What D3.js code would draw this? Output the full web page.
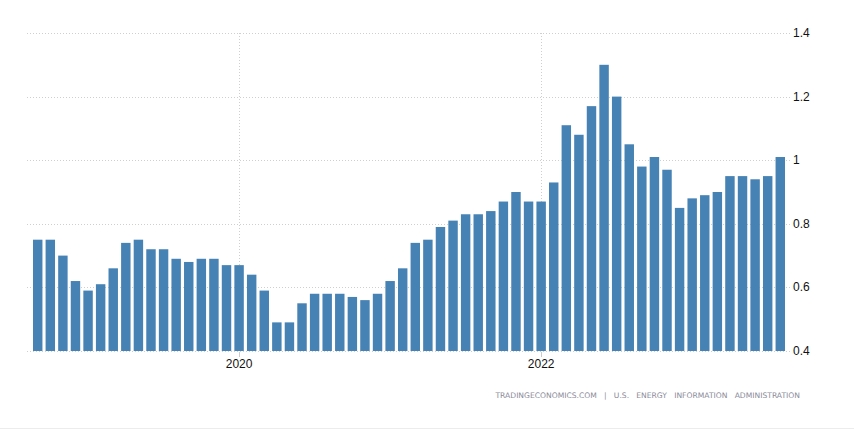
<!DOCTYPE html>
<html>
<head>
<meta charset="utf-8">
<script src="https://cdn.jsdelivr.net/npm/d3@7"></script>
<style>
  html, body { margin: 0; padding: 0; background: #fff; }
  svg { display: block; }
</style>
</head>
<body>
<svg id="chart" width="854" height="431"></svg>
<script>
// Monthly values, Sep 2018 – Aug 2023
const months = [
  "2018-09","2018-10","2018-11","2018-12",
  "2019-01","2019-02","2019-03","2019-04","2019-05","2019-06","2019-07","2019-08","2019-09","2019-10","2019-11","2019-12",
  "2020-01","2020-02","2020-03","2020-04","2020-05","2020-06","2020-07","2020-08","2020-09","2020-10","2020-11","2020-12",
  "2021-01","2021-02","2021-03","2021-04","2021-05","2021-06","2021-07","2021-08","2021-09","2021-10","2021-11","2021-12",
  "2022-01","2022-02","2022-03","2022-04","2022-05","2022-06","2022-07","2022-08","2022-09","2022-10","2022-11","2022-12",
  "2023-01","2023-02","2023-03","2023-04","2023-05","2023-06","2023-07","2023-08"
];
const values = [
  0.75,0.75,0.70,0.62,
  0.59,0.61,0.66,0.74,0.75,0.72,0.72,0.69,0.68,0.69,0.69,0.67,
  0.67,0.64,0.59,0.49,0.49,0.55,0.58,0.58,0.58,0.57,0.56,0.58,
  0.62,0.66,0.74,0.75,0.79,0.81,0.83,0.83,0.84,0.87,0.90,0.87,
  0.87,0.93,1.11,1.08,1.17,1.30,1.20,1.05,0.98,1.01,0.97,0.85,
  0.88,0.89,0.90,0.95,0.95,0.94,0.95,1.01
];
const yTicks = [0.4, 0.6, 0.8, 1.0, 1.2, 1.4];
const yTickLabels = ["0.4", "0.6", "0.8", "1", "1.2", "1.4"];
const xTickMonths = ["2020-01", "2022-01"];
const xTickLabels = ["2020", "2022"];
const sourceText = "TRADINGECONOMICS.COM  |  U.S.  ENERGY  INFORMATION  ADMINISTRATION";

const svg = d3.select("#chart");
const gridLeft = 27, gridRight = 790;
const x = d3.scaleBand().domain(months).range([33, 785]).paddingInner(0.25).paddingOuter(0);
const y = d3.scaleLinear().domain([0.4, 1.4]).range([351, 33]);

// horizontal grid
svg.append("g").selectAll("line").data(yTicks).join("line")
  .attr("x1", gridLeft).attr("x2", gridRight)
  .attr("y1", d => Math.round(y(d)) + 0.5).attr("y2", d => Math.round(y(d)) + 0.5)
  .attr("stroke", "#cfcfcf").attr("stroke-width", 1).attr("stroke-dasharray", "1,2");

// vertical grid at year ticks
const xc = m => Math.round(x(m) + x.bandwidth() / 2) + 0.5;
svg.append("g").selectAll("line").data(xTickMonths).join("line")
  .attr("x1", xc).attr("x2", xc)
  .attr("y1", 33).attr("y2", 351)
  .attr("stroke", "#cfcfcf").attr("stroke-dasharray", "1,2");

// bars
svg.append("g").selectAll("rect").data(values).join("rect")
  .attr("x", (d, i) => x(months[i]))
  .attr("width", x.bandwidth())
  .attr("y", d => y(d))
  .attr("height", d => y(0.4) - y(d))
  .attr("fill", "#4682b4");

// x axis ticks and labels
svg.append("g").selectAll("line").data(xTickMonths).join("line")
  .attr("x1", xc).attr("x2", xc)
  .attr("y1", 352).attr("y2", 357)
  .attr("stroke", "#cccccc");
svg.append("g").selectAll("text").data(xTickMonths).join("text")
  .attr("x", m => x(m) + x.bandwidth() / 2)
  .attr("y", 368)
  .attr("text-anchor", "middle")
  .attr("font-family", "Liberation Sans, Arial, sans-serif")
  .attr("font-size", 12)
  .attr("fill", "#111")
  .text((m, i) => xTickLabels[i]);

// y axis labels (right)
svg.append("g").selectAll("text").data(yTicks).join("text")
  .attr("x", 793)
  .attr("y", d => y(d) + 4)
  .attr("font-family", "Liberation Sans, Arial, sans-serif")
  .attr("font-size", 12)
  .attr("fill", "#111")
  .text((d, i) => yTickLabels[i]);

// source
svg.append("text")
  .attr("x", 800).attr("y", 398)
  .attr("text-anchor", "end")
  .attr("font-family", "DejaVu Sans, Verdana, sans-serif")
  .attr("font-size", 7.6)
  .attr("word-spacing", 1.2)
  .attr("fill", "#8a8a99")
  .attr("xml:space", "preserve")
  .style("white-space", "pre")
  .text(sourceText);

// bottom border line
svg.append("line")
  .attr("x1", 0).attr("x2", 854).attr("y1", 428.5).attr("y2", 428.5)
  .attr("stroke", "#ececec");
</script>
</body>
</html>
